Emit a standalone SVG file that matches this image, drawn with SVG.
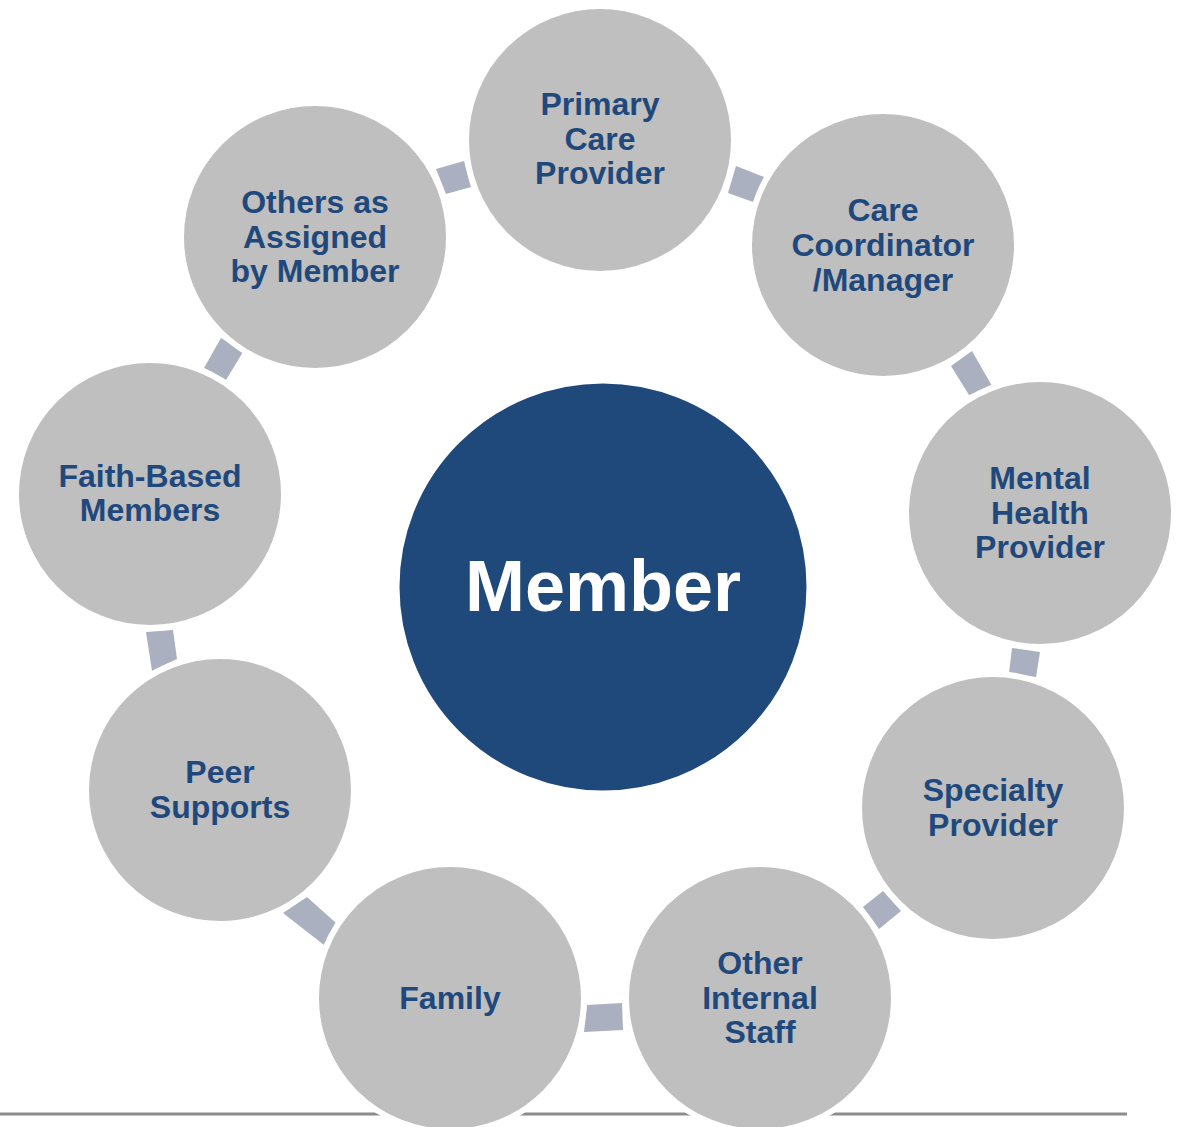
<svg xmlns="http://www.w3.org/2000/svg" width="1183" height="1127" viewBox="0 0 1183 1127">
<style>
.node{fill:#bfbfbf;stroke:#ffffff;stroke-width:6}
.lbl{font-family:"Liberation Sans",Arial,sans-serif;font-weight:bold;font-size:32px;fill:#1f497d;text-anchor:middle}
.conn{fill:#aab0bf}
.center{fill:#1f487b;stroke:#ffffff;stroke-width:3}
.clbl{font-family:"Liberation Sans",Arial,sans-serif;font-weight:bold;font-size:72px;fill:#ffffff;text-anchor:middle}
</style>
<rect width="1183" height="1127" fill="#ffffff"/>
<line x1="0" y1="1114" x2="1127" y2="1114" stroke="#8c8c8c" stroke-width="3"/>
<g id="connectors">
<polygon class="conn" points="436,169 464,161 471,187 446,194"/>
<polygon class="conn" points="736,166 764,177 753,202 728,193"/>
<polygon class="conn" points="951,366 972,351 992,386 969,395"/>
<polygon class="conn" points="1012,648 1040,652 1036,677 1009,673"/>
<polygon class="conn" points="863,907 883,891 901,911 879,929"/>
<polygon class="conn" points="587,1005 622,1003 623,1030 584,1032"/>
<polygon class="conn" points="283,913 307,897 336,923 324,945"/>
<polygon class="conn" points="146,632 173,630 177,659 152,671"/>
<polygon class="conn" points="221,338 243,352 226,380 204,368"/>
</g>
<g id="member">
<circle class="center" cx="603" cy="587" r="205"/>
<text class="clbl" x="603" y="611">Member</text>
</g>
<g id="primary-care-provider">
<circle class="node" cx="600" cy="140" r="134"/>
<text class="lbl" x="600" y="115">Primary</text>
<text class="lbl" x="600" y="150">Care</text>
<text class="lbl" x="600" y="184">Provider</text>
</g>
<g id="care-coordinator">
<circle class="node" cx="883" cy="245" r="134"/>
<text class="lbl" x="883" y="221">Care</text>
<text class="lbl" x="883" y="256">Coordinator</text>
<text class="lbl" x="883" y="291">/Manager</text>
</g>
<g id="mental-health-provider">
<circle class="node" cx="1040" cy="513" r="134"/>
<text class="lbl" x="1040" y="489">Mental</text>
<text class="lbl" x="1040" y="524">Health</text>
<text class="lbl" x="1040" y="558">Provider</text>
</g>
<g id="specialty-provider">
<circle class="node" cx="993" cy="808" r="134"/>
<text class="lbl" x="993" y="801">Specialty</text>
<text class="lbl" x="993" y="836">Provider</text>
</g>
<g id="other-internal-staff">
<circle class="node" cx="760" cy="998" r="134"/>
<text class="lbl" x="760" y="974">Other</text>
<text class="lbl" x="760" y="1009">Internal</text>
<text class="lbl" x="760" y="1043">Staff</text>
</g>
<g id="family">
<circle class="node" cx="450" cy="998" r="134"/>
<text class="lbl" x="450" y="1009">Family</text>
</g>
<g id="peer-supports">
<circle class="node" cx="220" cy="790" r="134"/>
<text class="lbl" x="220" y="783">Peer</text>
<text class="lbl" x="220" y="818">Supports</text>
</g>
<g id="faith-based-members">
<circle class="node" cx="150" cy="494" r="134"/>
<text class="lbl" x="150" y="487">Faith-Based</text>
<text class="lbl" x="150" y="521">Members</text>
</g>
<g id="others-assigned">
<circle class="node" cx="315" cy="237" r="134"/>
<text class="lbl" x="315" y="213">Others as</text>
<text class="lbl" x="315" y="248">Assigned</text>
<text class="lbl" x="315" y="282">by Member</text>
</g>
</svg>
